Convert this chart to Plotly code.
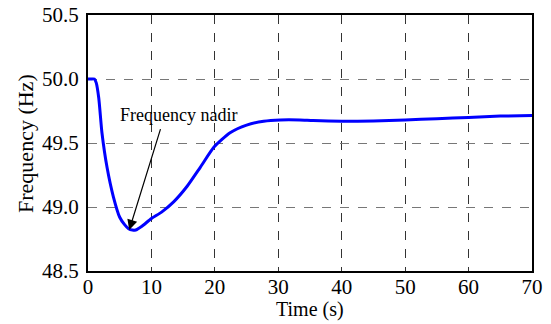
import plotly.graph_objects as go

time_s = [0, 0.5, 1.0, 1.3, 1.7, 2.2, 3.0, 4.0, 5.0, 5.8, 6.4, 7.0, 7.5, 8.5, 10.0,
          11.6, 13.5, 15.6, 17.7, 19.9, 22.4, 25.0, 27.7, 30.3, 33.4, 35.5, 40.0,
          45.0, 50.0, 55.0, 60.0, 65.0, 70.0]
freq_hz = [50.0, 50.0, 50.0, 49.97, 49.85, 49.58, 49.31, 49.08, 48.92, 48.86, 48.83,
           48.82, 48.82, 48.85, 48.91, 48.96, 49.04, 49.16, 49.31, 49.47, 49.58,
           49.64, 49.67, 49.68, 49.68, 49.675, 49.67, 49.672, 49.68, 49.69, 49.70,
           49.71, 49.715]

x_ticks = [0, 10, 20, 30, 40, 50, 60, 70]
y_ticks = [48.5, 49.0, 49.5, 50.0, 50.5]
y_tick_labels = ["48.5", "49.0", "49.5", "50.0", "50.5"]

nadir_t, nadir_f = 6.5, 48.82
label_text = "Frequency nadir"
x_title = "Time (s)"
y_title = "Frequency (Hz)"

font = "Liberation Serif"

fig = go.Figure()
fig.add_trace(go.Scatter(x=time_s, y=freq_hz, mode="lines",
                         line=dict(color="#0000FF", width=3, shape="spline", smoothing=0.6),
                         showlegend=False, hoverinfo="skip"))

fig.add_annotation(x=nadir_t, y=nadir_f, ax=11.5, ay=49.62, axref="x", ayref="y",
                   xref="x", yref="y", text="", showarrow=True, arrowhead=2,
                   arrowsize=1.7, arrowwidth=1.2, arrowcolor="black", standoff=0)
fig.add_annotation(x=14.3, y=49.72, xref="x", yref="y", text=label_text,
                   showarrow=False, font=dict(family=font, size=18, color="black"))

# axis titles
fig.add_annotation(x=0.5, y=-0.152, xref="paper", yref="paper", text=x_title,
                   showarrow=False, xanchor="center", yanchor="middle",
                   font=dict(family=font, size=20, color="black"))
fig.add_annotation(x=-0.142, y=0.5, xref="paper", yref="paper", text=y_title,
                   showarrow=False, xanchor="center", yanchor="middle", textangle=-90,
                   font=dict(family=font, size=22, color="black"))

fig.update_layout(
    width=551, height=324,
    margin=dict(l=88, r=19, t=15, b=53, autoexpand=False),
    paper_bgcolor="white", plot_bgcolor="white",
    font=dict(family=font, color="black"),
    xaxis=dict(range=[0, 70], tickvals=x_ticks, ticktext=[str(v) for v in x_ticks],
               showgrid=True, gridcolor="#333333", griddash="dash", gridwidth=1,
               showline=True, linecolor="black", linewidth=2, mirror=True,
               ticks="", zeroline=False, tickfont=dict(size=21, family=font),
               ticklabelstandoff=-4, automargin=False),
    yaxis=dict(range=[48.5, 50.5], tickvals=y_ticks, ticktext=y_tick_labels,
               showgrid=True, gridcolor="#777777", griddash="dash", gridwidth=1,
               showline=True, linecolor="black", linewidth=2, mirror=True,
               ticks="", zeroline=False, tickfont=dict(size=21, family=font),
               ticklabelstandoff=3, automargin=False),
)

fig.write_html("out.html")
